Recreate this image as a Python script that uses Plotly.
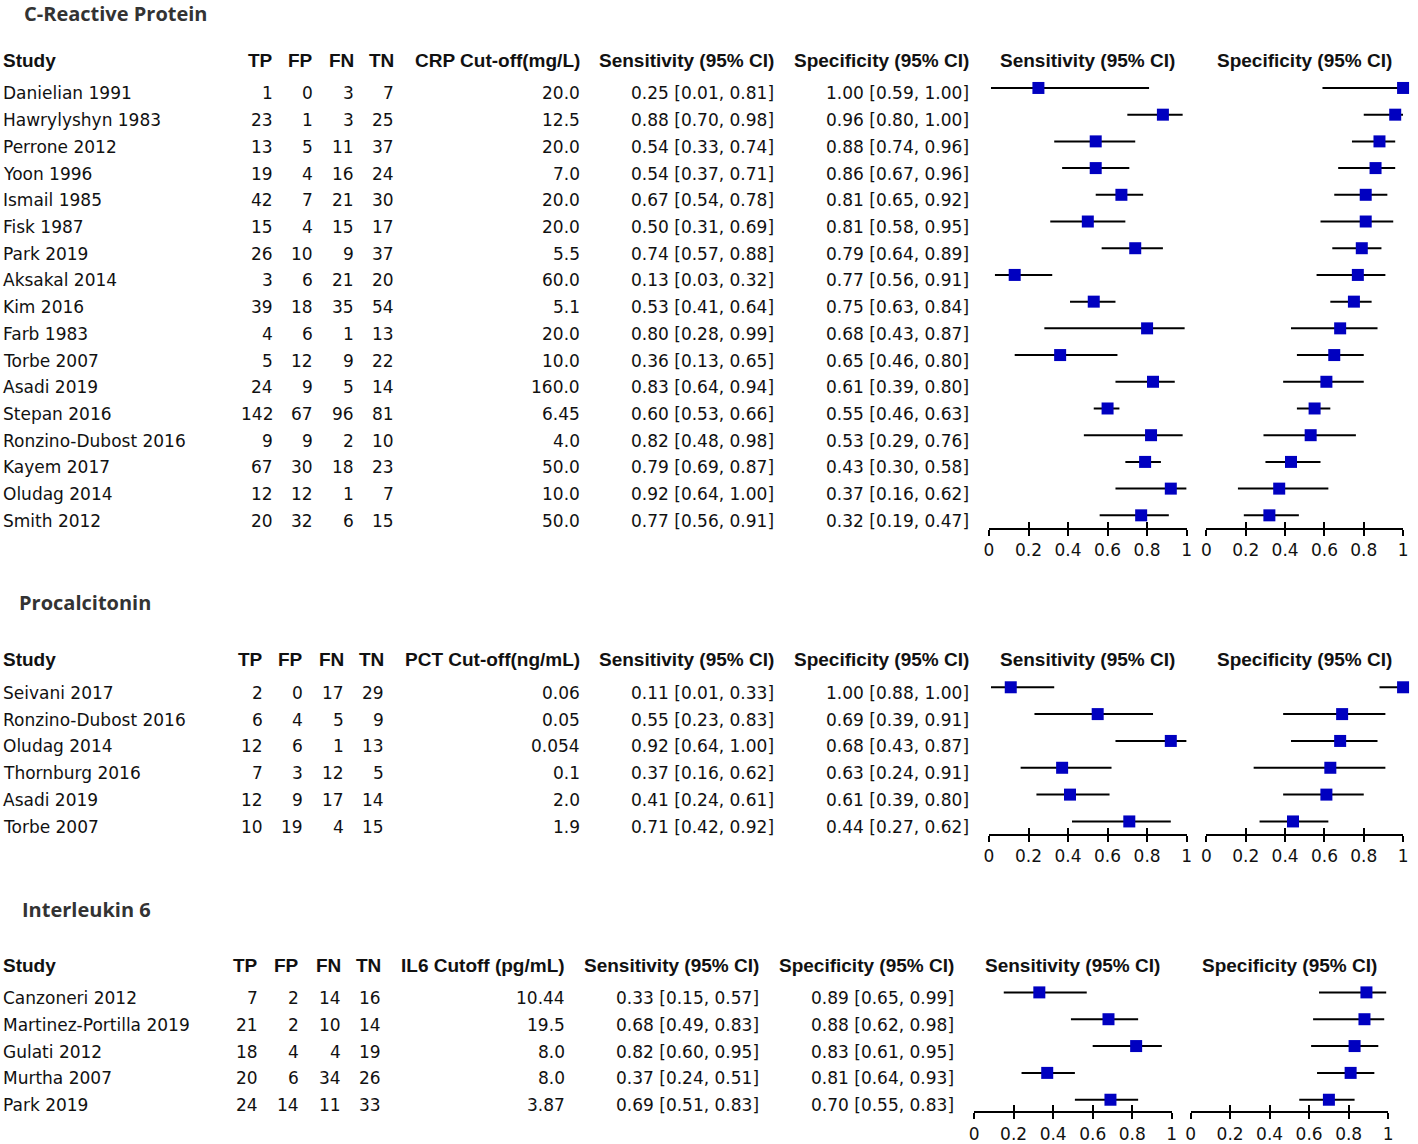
import plotly.graph_objects as go

W, H = 1418, 1144

# ---------------- DATA ----------------
# C-Reactive Protein
crp_study = ["Danielian 1991", "Hawrylyshyn 1983", "Perrone 2012", "Yoon 1996", "Ismail 1985",
             "Fisk 1987", "Park 2019", "Aksakal 2014", "Kim 2016", "Farb 1983", "Torbe 2007",
             "Asadi 2019", "Stepan 2016", "Ronzino-Dubost 2016", "Kayem 2017", "Oludag 2014", "Smith 2012"]
crp_tp = [1, 23, 13, 19, 42, 15, 26, 3, 39, 4, 5, 24, 142, 9, 67, 12, 20]
crp_fp = [0, 1, 5, 4, 7, 4, 10, 6, 18, 6, 12, 9, 67, 9, 30, 12, 32]
crp_fn = [3, 3, 11, 16, 21, 15, 9, 21, 35, 1, 9, 5, 96, 2, 18, 1, 6]
crp_tn = [7, 25, 37, 24, 30, 17, 37, 20, 54, 13, 22, 14, 81, 10, 23, 7, 15]
crp_cutoff = ["20.0", "12.5", "20.0", "7.0", "20.0", "20.0", "5.5", "60.0", "5.1", "20.0", "10.0",
              "160.0", "6.45", "4.0", "50.0", "10.0", "50.0"]
crp_sens = [0.25, 0.88, 0.54, 0.54, 0.67, 0.50, 0.74, 0.13, 0.53, 0.80, 0.36, 0.83, 0.60, 0.82, 0.79, 0.92, 0.77]
crp_sens_lo = [0.01, 0.70, 0.33, 0.37, 0.54, 0.31, 0.57, 0.03, 0.41, 0.28, 0.13, 0.64, 0.53, 0.48, 0.69, 0.64, 0.56]
crp_sens_hi = [0.81, 0.98, 0.74, 0.71, 0.78, 0.69, 0.88, 0.32, 0.64, 0.99, 0.65, 0.94, 0.66, 0.98, 0.87, 1.00, 0.91]
crp_spec = [1.00, 0.96, 0.88, 0.86, 0.81, 0.81, 0.79, 0.77, 0.75, 0.68, 0.65, 0.61, 0.55, 0.53, 0.43, 0.37, 0.32]
crp_spec_lo = [0.59, 0.80, 0.74, 0.67, 0.65, 0.58, 0.64, 0.56, 0.63, 0.43, 0.46, 0.39, 0.46, 0.29, 0.30, 0.16, 0.19]
crp_spec_hi = [1.00, 1.00, 0.96, 0.96, 0.92, 0.95, 0.89, 0.91, 0.84, 0.87, 0.80, 0.80, 0.63, 0.76, 0.58, 0.62, 0.47]

# Procalcitonin
pct_study = ["Seivani 2017", "Ronzino-Dubost 2016", "Oludag 2014", "Thornburg 2016", "Asadi 2019", "Torbe 2007"]
pct_tp = [2, 6, 12, 7, 12, 10]
pct_fp = [0, 4, 6, 3, 9, 19]
pct_fn = [17, 5, 1, 12, 17, 4]
pct_tn = [29, 9, 13, 5, 14, 15]
pct_cutoff = ["0.06", "0.05", "0.054", "0.1", "2.0", "1.9"]
pct_sens = [0.11, 0.55, 0.92, 0.37, 0.41, 0.71]
pct_sens_lo = [0.01, 0.23, 0.64, 0.16, 0.24, 0.42]
pct_sens_hi = [0.33, 0.83, 1.00, 0.62, 0.61, 0.92]
pct_spec = [1.00, 0.69, 0.68, 0.63, 0.61, 0.44]
pct_spec_lo = [0.88, 0.39, 0.43, 0.24, 0.39, 0.27]
pct_spec_hi = [1.00, 0.91, 0.87, 0.91, 0.80, 0.62]

# Interleukin 6
il6_study = ["Canzoneri 2012", "Martinez-Portilla 2019", "Gulati 2012", "Murtha 2007", "Park 2019"]
il6_tp = [7, 21, 18, 20, 24]
il6_fp = [2, 2, 4, 6, 14]
il6_fn = [14, 10, 4, 34, 11]
il6_tn = [16, 14, 19, 26, 33]
il6_cutoff = ["10.44", "19.5", "8.0", "8.0", "3.87"]
il6_sens = [0.33, 0.68, 0.82, 0.37, 0.69]
il6_sens_lo = [0.15, 0.49, 0.60, 0.24, 0.51]
il6_sens_hi = [0.57, 0.83, 0.95, 0.51, 0.83]
il6_spec = [0.89, 0.88, 0.83, 0.81, 0.70]
il6_spec_lo = [0.65, 0.62, 0.61, 0.64, 0.55]
il6_spec_hi = [0.99, 0.98, 0.95, 0.93, 0.83]

tick_vals = [0, 0.2, 0.4, 0.6, 0.8, 1]
tick_text = ["0", "0.2", "0.4", "0.6", "0.8", "1"]

# ---------------- LAYOUT HELPERS ----------------
def px(x):
    return x / W

def py(y):
    return 1 - y / H

BODY = dict(family="DejaVu Sans", size=17, color="#111111")
HEAD = dict(family="Liberation Sans", size=19, color="#111111", weight="bold")
TITLE = dict(family="Open Sans", size=20, color="#333333", weight="bold")
BLUE = "#0000c0"

sections = [
    dict(title="C-Reactive Protein", tx=19, ty=14, hy=61, row0=91.5, step=26.875, axy=531,
         cols=[271, 311, 352, 393, 580, 775, 972], cut_head="CRP Cut-off(mg/L)",
         fs=(991, 1190), fp=(1210, 1408),
         study=crp_study, tp=crp_tp, fpv=crp_fp, fn=crp_fn, tn=crp_tn, cut=crp_cutoff,
         sens=(crp_sens, crp_sens_lo, crp_sens_hi), spec=(crp_spec, crp_spec_lo, crp_spec_hi)),
    dict(title="Procalcitonin", tx=14, ty=606, hy=664, row0=694.5, step=27, axy=839,
         cols=[261, 301, 342, 383, 580, 775, 972], cut_head="PCT Cut-off(ng/mL)",
         fs=(991, 1190), fp=(1210, 1408),
         study=pct_study, tp=pct_tp, fpv=pct_fp, fn=pct_fn, tn=pct_tn, cut=pct_cutoff,
         sens=(pct_sens, pct_sens_lo, pct_sens_hi), spec=(pct_spec, pct_spec_lo, pct_spec_hi)),
    dict(title="Interleukin 6", tx=17, ty=915, hy=971, row0=1001.5, step=27, axy=1118,
         cols=[256, 297, 339, 380, 565, 760, 957], cut_head="IL6 Cutoff (pg/mL)",
         fs=(976, 1175), fp=(1194, 1393),
         study=il6_study, tp=il6_tp, fpv=il6_fp, fn=il6_fn, tn=il6_tn, cut=il6_cutoff,
         sens=(il6_sens, il6_sens_lo, il6_sens_hi), spec=(il6_spec, il6_spec_lo, il6_spec_hi)),
]

BODY_DY = 2.5   # visual centring of body text
LEFT_DX = -4
MARK_DY = -3    # forest markers sit slightly above the text baseline centre

fig = go.Figure()
annotations = []
layout_axes = {}

def ann(text, x, y, xanchor, font):
    annotations.append(dict(text=text, x=px(x), y=py(y), xref="paper", yref="paper",
                            xanchor=xanchor, yanchor="middle", showarrow=False,
                            font=font, borderpad=0, borderwidth=0))

fcount = 0
for s in sections:
    ann(s["title"], s["tx"], s["ty"], "left", TITLE)
    c = s["cols"]
    hy = s["hy"]
    ann("Study", 2 + LEFT_DX, hy, "left", HEAD)
    for lab, xr in zip(["TP", "FP", "FN", "TN", s["cut_head"], "Sensitivity (95% CI)", "Specificity (95% CI)"], c):
        ann(lab, xr - 1, hy, "right", HEAD)
    ann("Sensitivity (95% CI)", (s["fs"][0] + s["fs"][1]) / 2, hy, "center", HEAD)
    ann("Specificity (95% CI)", (s["fp"][0] + s["fp"][1]) / 2, hy, "center", HEAD)

    n = len(s["study"])
    for i in range(n):
        yy = s["row0"] + i * s["step"] + BODY_DY
        ann(s["study"][i], 2 + LEFT_DX, yy, "left", BODY)
        vals = [str(s["tp"][i]), str(s["fpv"][i]), str(s["fn"][i]), str(s["tn"][i]), s["cut"][i],
                f"{s['sens'][0][i]:.2f} [{s['sens'][1][i]:.2f}, {s['sens'][2][i]:.2f}]",
                f"{s['spec'][0][i]:.2f} [{s['spec'][1][i]:.2f}, {s['spec'][2][i]:.2f}]"]
        for v, xr in zip(vals, c):
            ann(v, xr - 1, yy, "right", BODY)

    # forest panels
    top_px = hy + 14
    r0 = s["row0"] + MARK_DY
    y_lo = (s["axy"] - r0) / s["step"]
    y_hi = (top_px - r0) / s["step"]
    for (x0, x1), (v, lo, hi) in [(s["fs"], s["sens"]), (s["fp"], s["spec"])]:
        yi = fcount + 1
        xa = 2 * fcount + 1
        xb = 2 * fcount + 2
        ysuf = "" if yi == 1 else str(yi)
        xasuf = "" if xa == 1 else str(xa)
        fig.add_trace(go.Scatter(
            x=v, y=list(range(n)), mode="markers",
            marker=dict(symbol="square", size=12, color=BLUE, line=dict(width=0)),
            error_x=dict(type="data", symmetric=False,
                         array=[h - m for h, m in zip(hi, v)],
                         arrayminus=[m - l for m, l in zip(v, lo)],
                         thickness=2, width=0, color="black"),
            xaxis="x" + xasuf, yaxis="y" + ysuf, cliponaxis=False,
            showlegend=False, hoverinfo="skip"))
        fig.add_trace(go.Scatter(x=[None], y=[None], mode="markers",
                                 xaxis="x" + str(xb), yaxis="y" + ysuf,
                                 showlegend=False, hoverinfo="skip"))
        layout_axes["xaxis" + xasuf] = dict(
            domain=[px(x0), px(x1)], range=[0, 1], anchor="y" + ysuf,
            showline=True, linecolor="black", linewidth=2,
            ticks="outside", ticklen=6, tickwidth=2, tickcolor="black",
            tickvals=tick_vals, ticktext=tick_text,
            tickfont=dict(family="DejaVu Sans", size=17, color="#111111"),
            showgrid=False, zeroline=False, fixedrange=True)
        layout_axes["xaxis" + str(xb)] = dict(
            overlaying="x" + xasuf, anchor="y" + ysuf, side="bottom", range=[0, 1],
            ticks="inside", ticklen=6, tickwidth=2, tickcolor="black",
            tickvals=tick_vals, showticklabels=False,
            showline=False, showgrid=False, zeroline=False, fixedrange=True)
        layout_axes["yaxis" + ysuf] = dict(
            domain=[py(s["axy"]), py(top_px)], range=[y_lo, y_hi], anchor="x" + xasuf,
            visible=False, fixedrange=True)
        fcount += 1

fig.update_layout(
    width=W, height=H, margin=dict(l=0, r=0, t=0, b=0),
    paper_bgcolor="white", plot_bgcolor="rgba(0,0,0,0)",
    annotations=annotations, showlegend=False, **layout_axes)

fig.write_html("out.html", config={"displayModeBar": False},
               post_script="document.body.style.margin='0';document.body.style.overflow='hidden';")
